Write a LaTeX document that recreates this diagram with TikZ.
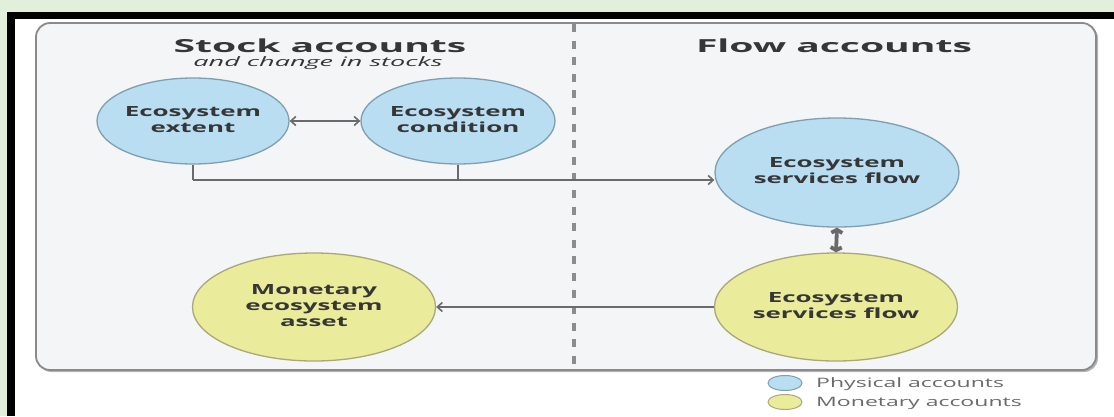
\documentclass[tikz,border=0pt]{standalone}
\usepackage{fontspec}
\setmainfont{Open Sans}
\usepackage{graphicx}
\usetikzlibrary{shapes.geometric,arrows.meta}
\definecolor{bgGreen}{HTML}{E2EFDA}
\definecolor{boxFill}{HTML}{F4F5F6}
\definecolor{boxLine}{HTML}{8A8A8A}
\definecolor{boxShadow}{HTML}{B4B4B4}
\definecolor{blueFill}{HTML}{B9DDF1}
\definecolor{blueLine}{HTML}{7E9FB0}
\definecolor{yelFill}{HTML}{EBEB9C}
\definecolor{yelLine}{HTML}{A8A978}
\definecolor{txtCol}{HTML}{363636}
\definecolor{legCol}{HTML}{6A6A6A}
\definecolor{connCol}{HTML}{6A6A6A}
\definecolor{dashCol}{HTML}{8C8C8C}
\newcommand{\sxt}[2]{\scalebox{#1}[1]{\begin{tabular}{@{}c@{}}#2\end{tabular}}}
\begin{document}
\begin{tikzpicture}[x=1pt,y=-1pt,
  phys/.style={ellipse, draw=blueLine, fill=blueFill, line width=1.3pt, inner sep=0pt},
  monet/.style={ellipse, draw=yelLine, fill=yelFill, line width=1.3pt, inner sep=0pt},
  lbl/.style={font=\fontsize{14}{16}\selectfont\bfseries, text=txtCol},
  ttl/.style={font=\fontsize{18}{20}\selectfont\bfseries, text=txtCol, inner sep=0pt},
  subttl/.style={font=\fontsize{13}{15}\selectfont\itshape, text=txtCol, inner sep=0pt},
  leg/.style={font=\fontsize{13}{15}\selectfont, text=legCol, inner sep=0pt, anchor=west},
  thin/.style={draw=connCol, line width=1.6pt},
  stem/.style={draw=connCol, line width=2.6pt},
  barb/.style={-{Straight Barb[length=5pt,width=9pt]}},
  dbarb/.style={{Straight Barb[length=5pt,width=9pt]}-{Straight Barb[length=5pt,width=9pt]}},
  thick2/.style={draw=connCol, line width=3.8pt, {Straight Barb[length=3pt,width=11pt]}-{Straight Barb[length=3pt,width=11pt]}}
]
\useasboundingbox (0,0) rectangle (1114,416);
% background frame
\fill[bgGreen] (0,0) rectangle (1114,416);
\fill[black] (7,12) rectangle (1114,19);
\fill[black] (7,12) rectangle (15,416);
\fill[white] (15,19) rectangle (1114,416);
% rounded panel with soft shadow
\fill[boxShadow, rounded corners=14pt] (37.5,24.5) rectangle (1098,372);
\draw[boxLine, fill=boxFill, line width=1.8pt, rounded corners=14pt] (36,23) rectangle (1096,370);
% dashed divider
\coordinate (dtop) at (574,24);
\coordinate (dbot) at (574,368);
\draw[dashCol, line width=3.6pt, dash pattern=on 8pt off 8.6pt] (dtop) -- (dbot);
% titles
\node[ttl] (tstock) at (320,48) {\sxt{2.17}{Stock accounts}};
\node[subttl] (tsub) at (318,63) {\sxt{2.08}{and change in stocks}};
\node[ttl] (tflow) at (834,48) {\sxt{2.17}{Flow accounts}};
% circles
\node[phys, minimum width=192pt, minimum height=86pt] (ext) at (193,121) {};
\node[lbl] at (ext.center) {\sxt{1.85}{Ecosystem\\extent}};
\node[phys, minimum width=194pt, minimum height=86pt] (cond) at (458,121) {};
\node[lbl] at (cond.center) {\sxt{1.85}{Ecosystem\\condition}};
\node[phys, minimum width=244pt, minimum height=109pt] (bsf) at (837,172.5) {};
\node[lbl] at (bsf.center) {\sxt{1.85}{Ecosystem\\services flow}};
\node[monet, minimum width=243pt, minimum height=108pt] (ysf) at (836,307) {};
\node[lbl] at (ysf.center) {\sxt{1.85}{Ecosystem\\services flow}};
\node[monet, minimum width=243pt, minimum height=108pt] (mon) at (314,307) {};
\node[lbl] at (mon.center) {\sxt{1.85}{Monetary\\ecosystem\\asset}};
% connectors
\coordinate (hy) at (0,180);
\draw[thin, dbarb] (ext.east) -- (cond.west);
\draw[stem] (ext.south) -- (ext.south |- hy);
\draw[stem] (cond.south) -- (cond.south |- hy);
\draw[thin, barb] (ext.south |- hy) -- (bsf.west |- hy);
\draw[thick2] (bsf.south) -- (ysf.north);
\draw[thin, barb] (ysf.west) -- (mon.east);
% legend
\node[phys, line width=1pt, minimum width=34pt, minimum height=15pt] (lphys) at (785,383) {};
\node[monet, line width=1pt, minimum width=34pt, minimum height=15pt] (lmon) at (785,402) {};
\node[leg] (tphys) at (816,384) {\sxt{1.77}{Physical accounts}};
\node[leg] (tmon) at (816,403) {\sxt{1.77}{Monetary accounts}};
\end{tikzpicture}
\end{document}
